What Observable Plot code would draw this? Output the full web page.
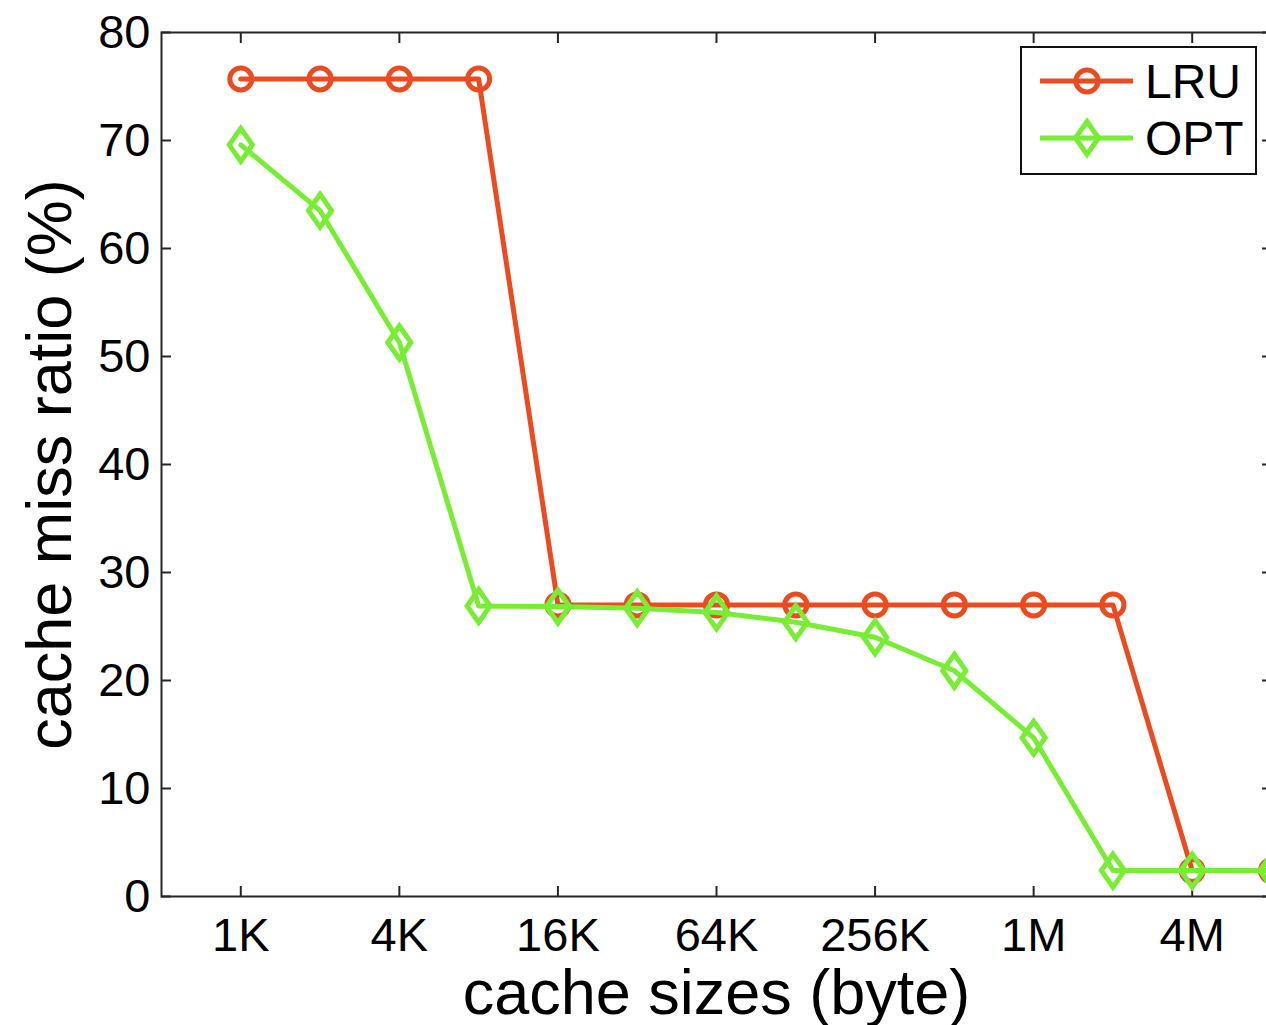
<!DOCTYPE html>
<html>
<head>
<meta charset="utf-8">
<script src="https://cdn.jsdelivr.net/npm/d3@7"></script>
<script src="https://cdn.jsdelivr.net/npm/@observablehq/plot@0.6"></script>
<style>
  html, body { margin: 0; padding: 0; background: #fff; overflow: hidden; }
  #chart svg { display: block; max-width: none; }
</style>
</head>
<body>
<div id="chart"></div>
<script>
// ---- data ----
const cacheSizes = [1024, 2048, 4096, 8192, 16384, 32768, 65536, 131072, 262144, 524288, 1048576, 2097152, 4194304, 8388608];
const lruMiss = [75.7, 75.7, 75.7, 75.7, 27.0, 27.0, 27.0, 27.0, 27.0, 27.0, 27.0, 27.0, 2.4, 2.4];
const optMiss = [69.6, 63.5, 51.3, 26.9, 26.85, 26.7, 26.3, 25.4, 24.0, 20.9, 14.7, 2.4, 2.4, 2.4];
const xTickValues = [1024, 4096, 16384, 65536, 262144, 1048576, 4194304];
const xTickLabels = ["1K", "4K", "16K", "64K", "256K", "1M", "4M"];
const yTickValues = [0, 10, 20, 30, 40, 50, 60, 70, 80];
const seriesNames = ["LRU", "OPT"];
const seriesColors = ["#ec4a1f", "#77ee33"];

const lruData = cacheSizes.map((s, i) => ({size: s, value: lruMiss[i]}));
const optData = cacheSizes.map((s, i) => ({size: s, value: optMiss[i]}));
const xLabelMap = new Map(xTickValues.map((v, i) => [v, xTickLabels[i]]));

// hollow diamond, taller than wide (MATLAB style)
const diamondSymbol = {
  draw(context, size) {
    const r = Math.sqrt(size / Math.PI);
    const w = r * 1.05, h = r * 1.5;
    context.moveTo(0, -h);
    context.lineTo(w, 0);
    context.lineTo(0, h);
    context.lineTo(-w, 0);
    context.closePath();
  }
};

const FONT = "'Liberation Sans', Arial, Helvetica, sans-serif";
const AX = "#262626";
const LW = 5;

function legendMark(index, scales, values, dimensions) {
  const right = dimensions.width - dimensions.marginRight;
  const top = dimensions.marginTop;
  const g = d3.create("svg:g").attr("font-family", FONT);
  g.append("rect")
    .attr("x", right - 250).attr("y", top + 15)
    .attr("width", 235).attr("height", 127)
    .attr("fill", "white").attr("stroke", "#111").attr("stroke-width", 2);
  seriesNames.forEach((name, i) => {
    const y = top + 49 + i * 57;
    const col = seriesColors[i];
    g.append("line")
      .attr("x1", right - 231).attr("x2", right - 138)
      .attr("y1", y).attr("y2", y)
      .attr("stroke", col).attr("stroke-width", LW);
    const cx = right - 184;
    if (i === 0) {
      g.append("circle").attr("cx", cx).attr("cy", y).attr("r", 11)
        .attr("fill", "none").attr("stroke", col).attr("stroke-width", LW);
    } else {
      const r = 11, w = r * 1.05, h = r * 1.5;
      g.append("path")
        .attr("d", `M${cx},${y - h}L${cx + w},${y}L${cx},${y + h}L${cx - w},${y}Z`)
        .attr("fill", "none").attr("stroke", col).attr("stroke-width", LW);
    }
    g.append("text")
      .attr("x", right - 126).attr("y", y).attr("dy", "0.36em")
      .attr("text-anchor", "start")
      .attr("font-size", 48).attr("fill", "black")
      .text(name);
  });
  return g.node();
}

const chart = Plot.plot({
  width: 1266,
  height: 1025,
  marginLeft: 161,
  marginRight: -5,
  marginTop: 32,
  marginBottom: 129,
  style: {fontFamily: FONT, background: "white", overflow: "visible"},
  x: {type: "log", base: 2, domain: [512, 8388608]},
  y: {domain: [0, 80]},
  marks: [
    // tick labels
    Plot.axisX(xTickValues, {anchor: "bottom", tickSize: 0, tickPadding: 21, tickFormat: d => xLabelMap.get(d), fontSize: 47, fill: "black", label: null}),
    Plot.axisY(yTickValues, {anchor: "left", tickSize: 0, tickPadding: 11, tickFormat: d => String(d), fontSize: 47, fill: "black", label: null}),
    // inward ticks on all four sides
    Plot.axisX(xTickValues, {anchor: "bottom", tickSize: 10, dy: -10, fill: null, stroke: AX, strokeWidth: 2, label: null}),
    Plot.axisX(xTickValues, {anchor: "top", tickSize: 10, dy: 10, fill: null, stroke: AX, strokeWidth: 2, label: null}),
    Plot.axisY(yTickValues, {anchor: "left", tickSize: 10, dx: 10, fill: null, stroke: AX, strokeWidth: 2, label: null}),
    Plot.axisY(yTickValues, {anchor: "right", tickSize: 10, dx: -10, fill: null, stroke: AX, strokeWidth: 2, label: null}),
    Plot.frame({stroke: AX, strokeWidth: 2}),
    // axis titles
    Plot.text(["cache sizes (byte)"], {frameAnchor: "bottom", dy: 97, fontSize: 63, fill: "black", lineAnchor: "middle", textAnchor: "middle"}),
    Plot.text(["cache miss ratio (%)"], {frameAnchor: "left", dx: -111, rotate: -90, fontSize: 63, fill: "black", lineAnchor: "middle", textAnchor: "middle"}),
    // series
    Plot.line(lruData, {x: "size", y: "value", stroke: seriesColors[0], strokeWidth: LW, strokeLinejoin: "round"}),
    Plot.dot(lruData, {x: "size", y: "value", r: 11, stroke: seriesColors[0], strokeWidth: LW, fill: "none"}),
    Plot.line(optData, {x: "size", y: "value", stroke: seriesColors[1], strokeWidth: LW, strokeLinejoin: "round"}),
    Plot.dot(optData, {x: "size", y: "value", r: 11, symbol: diamondSymbol, stroke: seriesColors[1], strokeWidth: LW, fill: "none"}),
    legendMark
  ]
});
document.getElementById("chart").append(chart);
</script>
</body>
</html>
